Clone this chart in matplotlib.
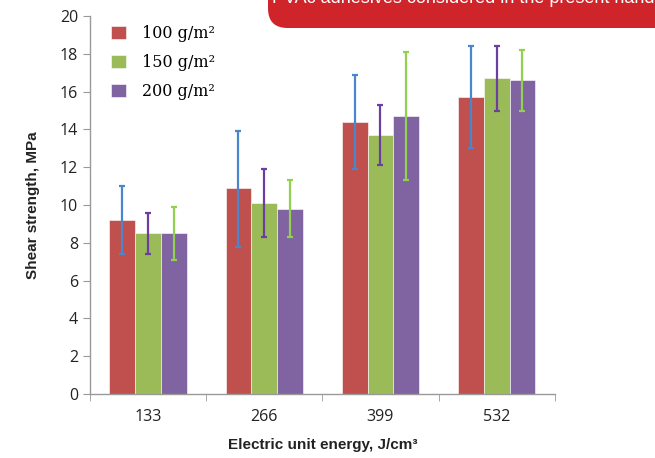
import matplotlib
matplotlib.use("Agg")
import matplotlib.pyplot as plt
import matplotlib.patches as patches
import numpy as np

# data
energies = ["133", "266", "399", "532"]
series = ["100 g/m²", "150 g/m²", "200 g/m²"]
means = [
    [9.2, 10.9, 14.4, 15.7],   # 100 g/m2
    [8.5, 10.1, 13.7, 16.7],   # 150 g/m2
    [8.5, 9.8, 14.7, 16.6],    # 200 g/m2
]
err_hi = [
    [11.0, 13.9, 16.9, 18.4],
    [9.6, 11.9, 15.3, 18.4],
    [9.9, 11.3, 18.1, 18.2],
]
err_lo = [
    [7.4, 7.8, 11.9, 13.0],
    [7.4, 8.3, 12.1, 15.0],
    [7.1, 8.3, 11.3, 15.0],
]

bar_colors = ["#C0504D", "#9BBB59", "#8064A2"]
err_colors = ["#4A86CE", "#6B3FA0", "#92D050"]

fig = plt.figure(figsize=(6.55, 4.58), dpi=100)
ax = fig.add_axes([0.1374, 0.1397, 0.7095, 0.8253])

x = np.arange(len(energies))
w = 0.222
for i in range(3):
    xs = x + (i - 1) * w
    m = np.array(means[i])
    lo = m - np.array(err_lo[i])
    hi = np.array(err_hi[i]) - m
    ax.bar(xs, m, width=w, color=bar_colors[i], edgecolor="white", linewidth=0.4,
           label=series[i], zorder=2)
    ax.errorbar(xs, m, yerr=[lo, hi], fmt="none", ecolor=err_colors[i],
                elinewidth=1.6, capsize=2.5, capthick=1.6, zorder=3)

ax.set_xlim(-0.5, 3.5)
ax.set_ylim(0, 20)
ax.set_yticks(range(0, 21, 2))
ax.set_xticks(x)
ax.set_xticklabels(energies, fontsize=11.5, fontfamily="Open Sans", color="#222222")
ax.set_xticks(np.arange(-0.5, 4.0, 1.0), minor=True)
ax.tick_params(axis="x", which="major", length=0, pad=11)
ax.tick_params(axis="x", which="minor", length=5, color="#999999")
ax.tick_params(axis="y", length=5, color="#999999", labelsize=11.5, labelcolor="#222222")
for t in ax.get_yticklabels():
    t.set_fontfamily("Open Sans")

for s in ["top", "right"]:
    ax.spines[s].set_visible(False)
for s in ["left", "bottom"]:
    ax.spines[s].set_color("#999999")
    ax.spines[s].set_linewidth(1.0)

ax.set_ylabel("Shear strength, MPa", fontsize=11, fontweight="bold",
              fontfamily="Liberation Sans", color="#222222", labelpad=14)
ax.set_xlabel("Electric unit energy, J/cm³", fontsize=11, fontweight="bold",
              fontfamily="Liberation Sans", color="#222222", labelpad=9)

leg = ax.legend(loc="upper left", bbox_to_anchor=(0.015, 1.015), frameon=False,
                handlelength=0.9, handleheight=0.9, handletextpad=1.0,
                labelspacing=0.75, prop={"family": "DejaVu Serif", "size": 11.5})

# red banner at the top right, cut off by the figure edge
banner = patches.FancyBboxPatch((268 / 655, 1 - 28 / 458), 420 / 655, 60 / 458,
                                boxstyle="round,pad=0,rounding_size=0.03",
                                transform=fig.transFigure, facecolor="#D0242B",
                                edgecolor="none", mutation_aspect=655 / 458)
fig.patches.append(banner)
fig.text(272 / 655, 1 + 2 / 458, "PVAc adhesives considered in the present hand",
         color="white", fontsize=13, fontfamily="Liberation Sans", va="center", ha="left")

fig.savefig("out.png", dpi=100)
